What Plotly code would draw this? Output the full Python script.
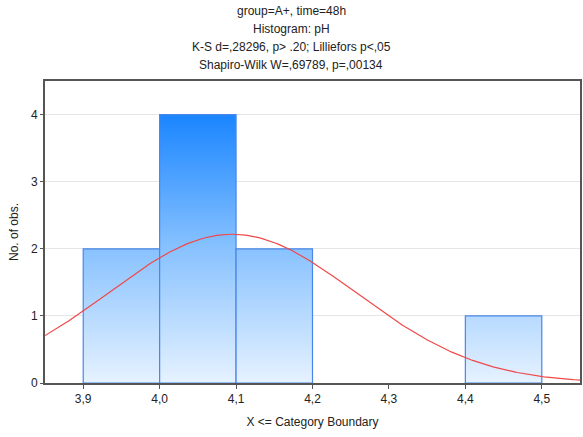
import numpy as np
import plotly.graph_objects as go

# Histogram data
bin_left = [3.9, 4.0, 4.1, 4.2, 4.3, 4.4]
bin_right = [4.0, 4.1, 4.2, 4.3, 4.4, 4.5]
counts = [2, 4, 2, 0, 0, 1]

# Fitted normal parameters
mean_val = 4.095
sd_val = 0.162
n_obs = sum(counts)
bin_width = 0.1

x_ticks = [3.9, 4.0, 4.1, 4.2, 4.3, 4.4, 4.5]
y_ticks = [0, 1, 2, 3, 4]

title_lines = [
    "group=A+, time=48h",
    "Histogram: pH",
    "K-S d=,28296, p> .20; Lilliefors p<,05",
    "Shapiro-Wilk W=,69789, p=,00134",
]

fig = go.Figure()

grad = [[0, "#e6f2ff"], [0.5, "#88c2ff"], [1, "#1a85ff"]]
for xl, xr, c in zip(bin_left, bin_right, counts):
    if c <= 0:
        continue
    fig.add_trace(go.Scatter(
        x=[xl, xl, xr, xr, xl], y=[0, c, c, 0, 0],
        mode="lines", fill="toself",
        fillgradient=dict(type="vertical", colorscale=grad, start=0, stop=4),
        line=dict(color="#4a86e8", width=1.2),
        hoverinfo="skip", showlegend=False,
    ))

xc = np.linspace(3.85, 4.55, 300)
yc = n_obs * bin_width * np.exp(-0.5 * ((xc - mean_val) / sd_val) ** 2) / (sd_val * np.sqrt(2 * np.pi))
fig.add_trace(go.Scatter(x=xc, y=yc, mode="lines",
                         line=dict(color="#f04848", width=1.2),
                         hoverinfo="skip", showlegend=False))

plot_top, plot_h = 81, 302
ys_px = [11, 29, 47, 65]
for t, yp in zip(title_lines, ys_px):
    fig.add_annotation(text=t, xref="paper", yref="paper",
                       x=(292 - 45) / 537, y=1 + (plot_top - yp) / plot_h,
                       xanchor="center", yanchor="middle", showarrow=False,
                       font=dict(size=12, color="#222222"))

fig.update_layout(
    width=583, height=437,
    margin=dict(l=45, r=1, t=81, b=54),
    paper_bgcolor="white", plot_bgcolor="white",
    separators=", ",
    font=dict(family="Liberation Sans, Arial, sans-serif", size=12, color="#222222"),
    showlegend=False,
)
fig.update_xaxes(range=[3.85, 4.55], tickvals=x_ticks, tickformat=".1f",
                 showgrid=False, zeroline=False,
                 showline=True, linecolor="#555555", linewidth=2, mirror=True,
                 ticks="outside", ticklen=4, tickcolor="#555555",
                 title=dict(text="X <= Category Boundary", font=dict(size=12), standoff=12))
fig.update_yaxes(range=[0, 4.5], tickvals=y_ticks,
                 showgrid=True, gridcolor="#e6e6e6", gridwidth=1, zeroline=False,
                 showline=True, linecolor="#555555", linewidth=2, mirror=True,
                 ticks="outside", ticklen=3, tickcolor="#555555",
                 title=dict(text="No. of obs.", font=dict(size=12), standoff=10))

fig.write_html("out.html", config={"displayModeBar": False},
               post_script="document.body.style.margin='0';")
